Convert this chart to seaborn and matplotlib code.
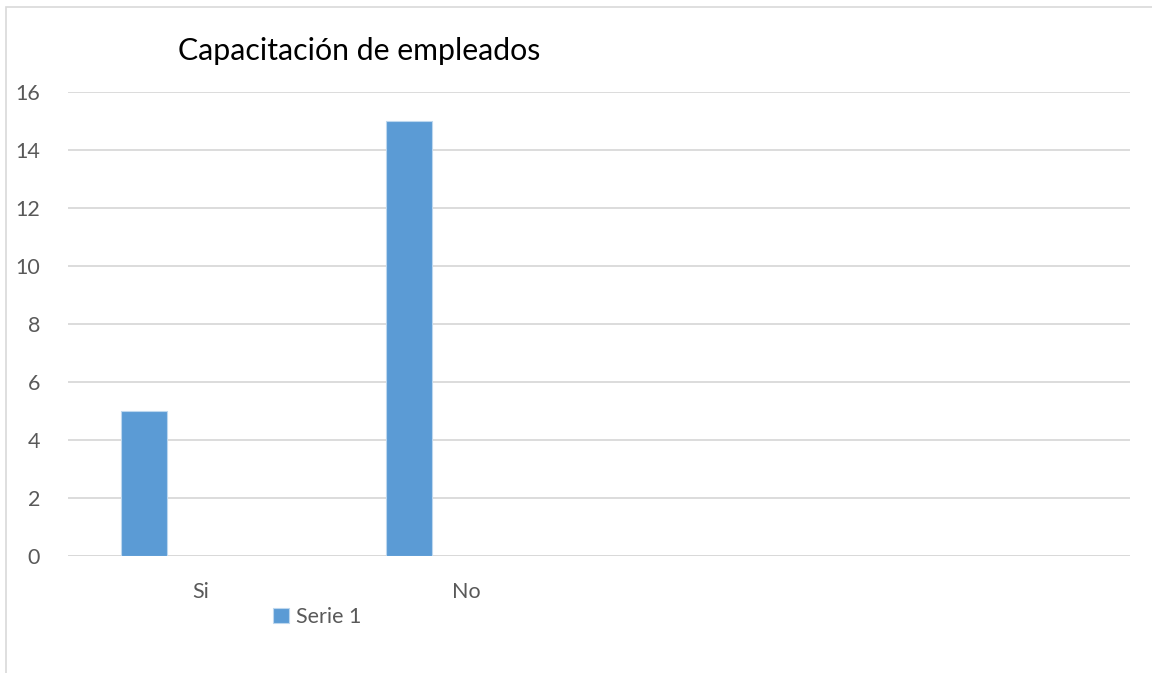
import matplotlib
matplotlib.use("Agg")
import matplotlib.pyplot as plt
import matplotlib.patches as mpatches
import seaborn as sns
import pandas as pd

categories = ["Si", "No"]
values = [5, 15]
series_name = "Serie 1"
title = "Capacitación de empleados"
yticks = [0, 2, 4, 6, 8, 10, 12, 14, 16]
n_slots = 4

sns.set_theme(style="white")
plt.rcParams['font.family'] = ['Lato', 'DejaVu Sans']

fig = plt.figure(figsize=(11.52, 6.73), dpi=100)
ax = fig.add_axes([68/1152, 1-556/673, (1130-68)/1152, (556-92)/673])

df = pd.DataFrame({"cat": categories, "val": values, "serie": series_name})
bar_w = 46/265.5
sns.barplot(data=df, x="cat", y="val", hue="serie", palette=["#5B9BD5"], saturation=1,
            width=bar_w, ax=ax, edgecolor="#BDD7EE", linewidth=0.8, legend=True)
shift = (201 - 144) / 265.5
for p in ax.patches:
    p.set_x(p.get_x() - shift)

ax.set_xlim(-0.5, n_slots - 0.5)
ax.set_ylim(0, 16)
ax.set_yticks(yticks)
ax.set_yticklabels([str(t) for t in yticks])
ax.yaxis.grid(True, color="#D9D9D9", linewidth=1.3)
ax.set_axisbelow(True)
for s in ax.spines.values():
    s.set_visible(False)
ax.axhline(0, color="#D9D9D9", linewidth=1.3, zorder=0)
ax.tick_params(axis="both", length=0, colors="#595959", labelsize=15.5)
ax.tick_params(axis="y", pad=20)
ax.tick_params(axis="x", pad=19)
ax.set_xlabel("")
ax.set_ylabel("")

leg = ax.legend(loc="center", bbox_to_anchor=(317/1152, 1-617/673), bbox_transform=fig.transFigure,
                frameon=False, fontsize=15.5, handlelength=0.75, handleheight=0.75, handletextpad=0.3)
for t in leg.get_texts():
    t.set_color("#595959")

fig.text(178/1152, 1-51/673, title, fontsize=21.8, color="#000000", ha="left", va="center")

fig.patches.append(mpatches.Rectangle((6/1152, -0.1), 1.2, (1-7/673)+0.1, transform=fig.transFigure,
                                      fill=False, edgecolor="#D9D9D9", linewidth=1.2))

fig.savefig("out.png", dpi=100, facecolor="white")
